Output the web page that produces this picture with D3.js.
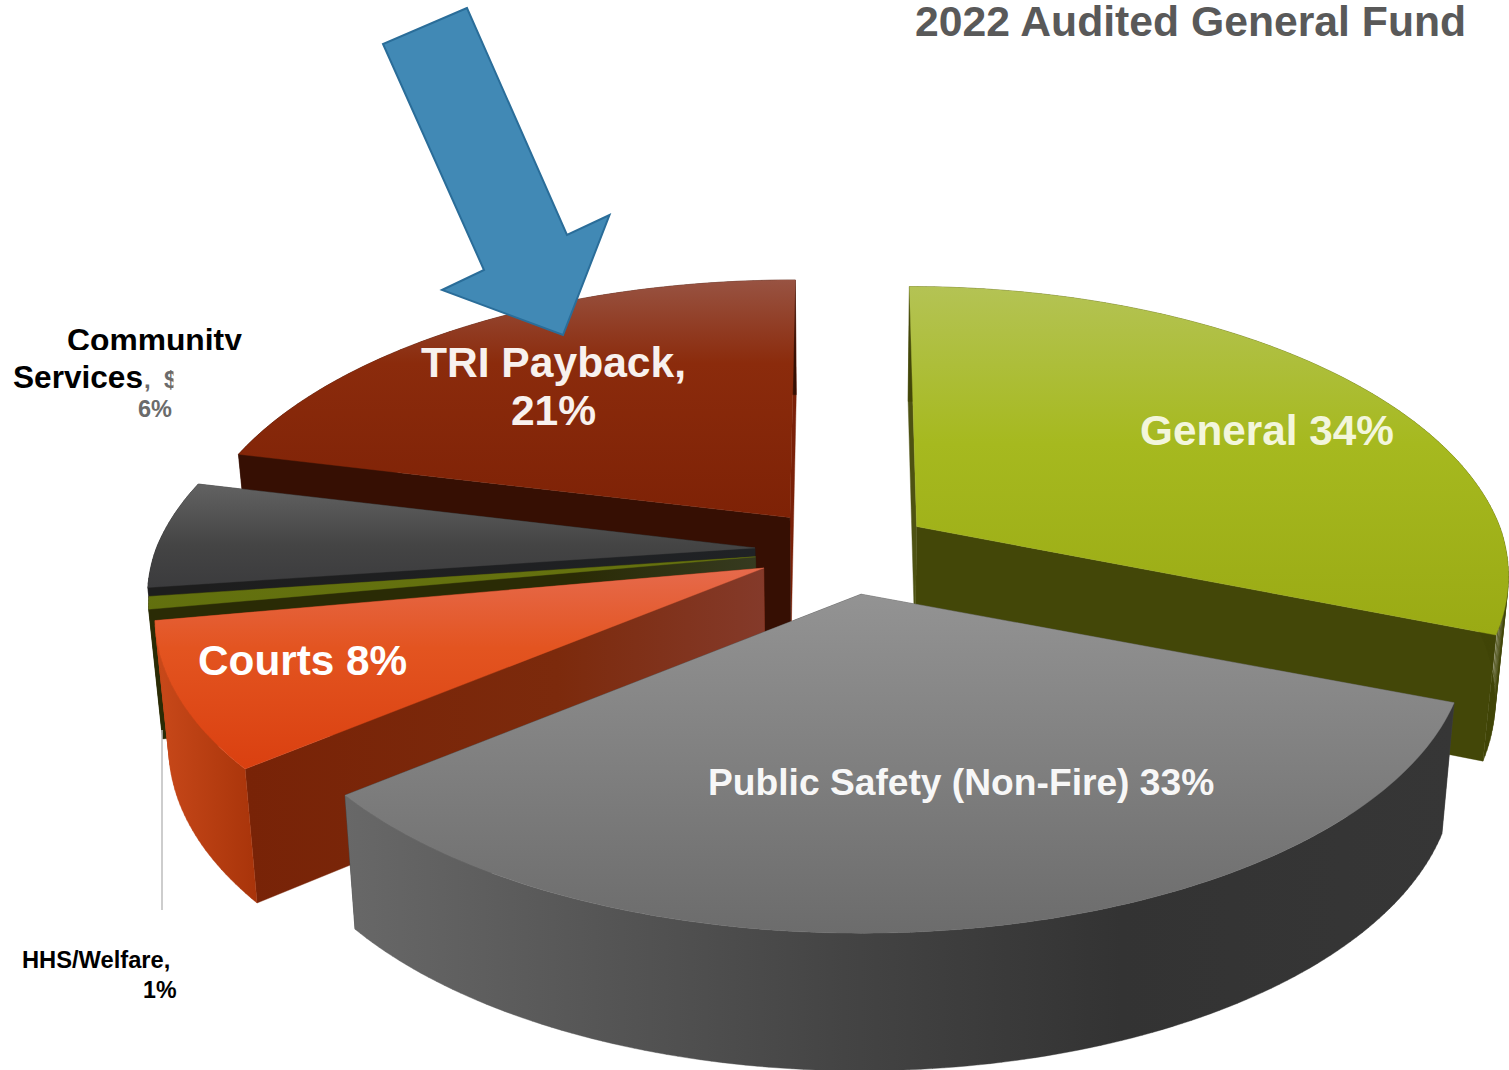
<!DOCTYPE html>
<html><head><meta charset="utf-8">
<script src="https://cdn.jsdelivr.net/npm/d3@7"></script>
<style>html,body{margin:0;padding:0;background:#fff}svg{display:block}text{font-family:"Liberation Sans",Arial,sans-serif;font-weight:700}</style>
</head><body><div id="chart"></div>
<script>
// Data: categories, drawn shares, printed labels
const categories = ["General","Public Safety (Non-Fire)","Courts","HHS/Welfare","Community Services","TRI Payback"];
const drawnShares = [30.9,33.1,8.1,0.7,6.0,21.2];
const printedLabels = ["General 34%","Public Safety (Non-Fire) 33%","Courts 8%","HHS/Welfare, 1%","Community Services, 6%","TRI Payback, 21%"];

const titleText = "2022 Audited General Fund";

// Styling per category, same order as categories
const topStops = [
  [[0,"#b4c354"],[.45,"#a6b91f"],[1,"#9aaa14"]],
  [[0,"#939393"],[1,"#6c6c6c"]],
  [[0,"#e66a4c"],[.4,"#e35420"],[1,"#da4010"]],
  [[0,"#66720f"],[1,"#62700e"]],
  [[0,"#626262"],[.6,"#444444"],[1,"#3b3b3d"]],
  [[0,"#985342"],[.35,"#8b2b0c"],[1,"#7e2206"]]
];
const rimStops = [
  [[0,"#434708"],[1,"#404406"]],
  [[0,"#686868"],[.45,"#444444"],[.7,"#333333"],[1,"#363636"]],
  [[0,"#c9491a"],[1,"#a8340a"]],
  [[0,"#2a2b05"],[1,"#2a2b05"]],
  [[0,"#1d1d1d"],[1,"#1d1d1d"]],
  [[0,"#360f03"],[1,"#360f03"]]
];
const startWallStops = [
  [[0,"#4d5212"],[1,"#4d5212"]],
  [[0,"#444"],[1,"#444"]],
  [[0,"#782307"],[.6,"#7c2a0c"],[1,"#843a2a"]],
  [[0,"#2a2b05"],[.7,"#2a2b05"],[1,"#363a20"]],
  [[0,"#1d1d1d"],[1,"#202225"]],
  [[0,"#360f03"],[1,"#360f03"]]
];
const endWallFill = ["#434708","#2c2c2c","#782307","#2a2b05","#1d1d1d","#7a2008"];
const drawOrder = [0,5,4,3,2,1];

// Projection of the tilted pie
const W = 1509, H = 1070;
const centre = {x:844, y:550};
const explode = 0.15, perspective = 0.171, convergence = 0.11, thickness = 128, thicknessPersp = 0.07, taper = 0.98;
const widthTweak  = [0.98,1.003,1.008,1.005,1.006,0.995];
const heightTweak = [1,1,1,1,1,0.99];
const depthTweak  = [0.96,1,1,1,1,0.96];
const nudgeX = [0,2.5,1.5,0,0,0], nudgeY = [0,1.5,0,0,0,0];
const sx = d3.scaleLinear().domain([-1,1]).range([-595,595]);
const sy = d3.scaleLinear().domain([-1,1]).range([-281,281]);
const pr = (X,Y)=>{const k=1-perspective*Y;return [sx(X)/k, sy(Y)/k];};
const dir = a=>[Math.sin(a),-Math.cos(a)];

const arcs = d3.pie().sort(null).value(d=>d).startAngle(0).endAngle(2*Math.PI)(drawnShares);

const svg = d3.select("#chart").append("svg").attr("width",W).attr("height",H).attr("viewBox",`0 0 ${W} ${H}`);
const defs = svg.append("defs");
function grad(id,stops,vertical){
  const g = defs.append("linearGradient").attr("id",id).attr("x1",0).attr("y1",0)
    .attr("x2",vertical?0:1).attr("y2",vertical?1:0);
  g.selectAll("stop").data(stops).join("stop").attr("offset",d=>d[0]).attr("stop-color",d=>d[1]);
  return `url(#${id})`;
}
const line = d3.line().curve(d3.curveLinear);

const slices = arcs.map((arc,i)=>{
  const mid = (arc.startAngle+arc.endAngle)/2;
  const [mx,my] = dir(mid);
  const off = pr(explode*mx, explode*my);
  const topPt = (X,Y)=>{const p=pr(X,Y);
    return [centre.x+nudgeX[i]+off[0]/(1-convergence*Math.min(Y,0))+p[0]*widthTweak[i], centre.y+nudgeY[i]+off[1]+p[1]*heightTweak[i]];};
  const botPt = (X,Y)=>{const p=topPt(X,Y);
    return [centre.x+(p[0]-centre.x)*taper, p[1]+depthTweak[i]*thickness/(1-thicknessPersp*Y)];};
  const n = Math.max(4,Math.ceil((arc.endAngle-arc.startAngle)*60));
  const angs = d3.range(n+1).map(k=>arc.startAngle+(arc.endAngle-arc.startAngle)*k/n);
  const topArc = angs.map(a=>topPt(...dir(a)));
  const botArc = angs.map(a=>botPt(...dir(a)));
  // rim wall as a strip of quads so the silhouette between top and bottom arcs is filled
  const rimPath = d3.range(n).map(k=>line([topArc[k],topArc[k+1],botArc[k+1],botArc[k]])+"Z").join("");
  return {i,arc,topPoly:[topPt(0,0),...topArc],rimPath,
    startWall:[topPt(0,0),topArc[0],botArc[0],botPt(0,0)],
    endWall:[topPt(0,0),topArc[n],botArc[n],botPt(0,0)]};
});

const pieG = svg.append("g");
drawOrder.forEach(i=>{
  const s = slices[i];
  const g = pieG.append("g").attr("class","slice").attr("data-name",categories[i]);
  const draw = (d,fill)=>g.append("path").attr("d",d).attr("fill",fill).attr("stroke",fill).attr("stroke-width",.4);
  draw(line(s.endWall)+"Z",endWallFill[i]);
  draw(line(s.startWall)+"Z",grad("sw"+i,startWallStops[i],false));
  draw(s.rimPath,grad("rim"+i,rimStops[i],false));
  draw(line(s.topPoly)+"Z",grad("top"+i,topStops[i],true));
});

// Leader line for HHS/Welfare
svg.append("line").attr("x1",162).attr("x2",162).attr("y1",730).attr("y2",910)
  .attr("stroke","#bdbdbd").attr("stroke-width",1.5);

// Callout arrow
const arrowOutline = [[467,8],[383,44],[484,270],[442,290],[563,335],[609.5,215],[567,235]];
svg.append("path").attr("d",line(arrowOutline)+"Z").attr("fill","#4189b5").attr("stroke","#2a6d99").attr("stroke-width",2).attr("stroke-linejoin","miter");

// Text
const label = (t,x,y,size,fill,anchor)=>svg.append("text").text(t).attr("x",x).attr("y",y)
  .attr("font-size",size).attr("fill",fill).attr("text-anchor",anchor||"start");
label(titleText,915,35.5,42.7,"#595959");
label(printedLabels[0],1140,445,42.3,"#f3f6dc");
label(printedLabels[1],708,795,37.2,"#f7f7f7");
label(printedLabels[2],198,675,42.3,"#ffffff");
label("TRI Payback,",553.5,377,42.6,"#f8f1ee","middle");
label("21%",553.5,425,42.6,"#f8f1ee","middle");

// Clipped small labels, as in the source picture
defs.append("clipPath").attr("id","clipCommunity").append("rect").attr("x",0).attr("y",300).attr("width",260).attr("height",50);
defs.append("clipPath").attr("id","clipDollar").append("rect").attr("x",0).attr("y",350).attr("width",173.5).attr("height",80);
label("Community",67,351,31.8,"#000").attr("clip-path","url(#clipCommunity)");
label("Services",13,388,31.6,"#000");
const sep = svg.append("text").attr("x",144).attr("y",388).attr("font-size",24).attr("fill","#6b6b6b").attr("clip-path","url(#clipDollar)");
sep.append("tspan").text(",");
sep.append("tspan").attr("x",164).text("$");
label("6%",172,417,23.5,"#6b6b6b","end");
label("HHS/Welfare,",22,968,23.7,"#000");
label("1%",176.5,997.5,23.2,"#000","end");
</script></body></html>
